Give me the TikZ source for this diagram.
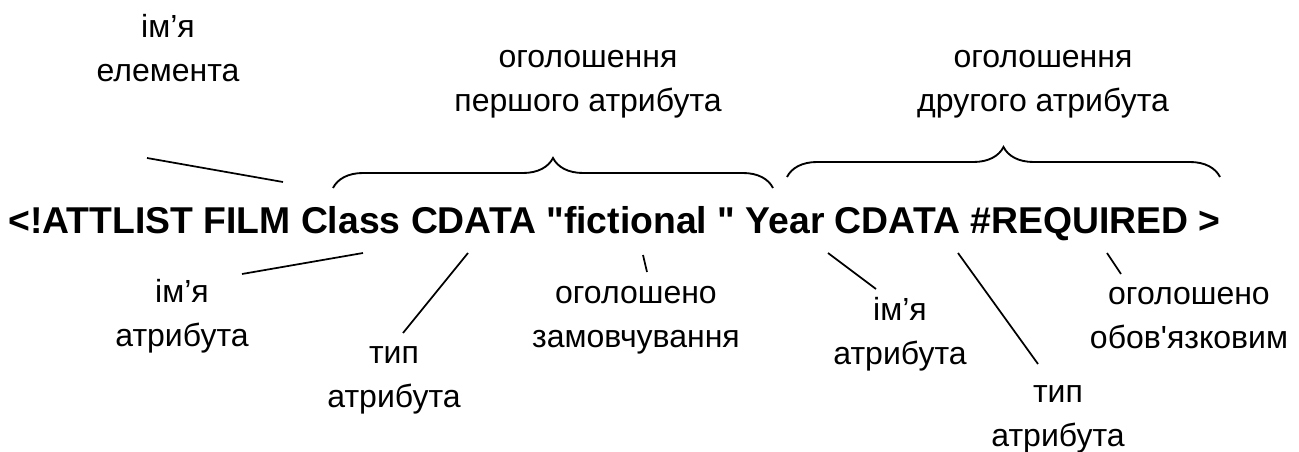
\documentclass[tikz,border=0pt]{standalone}
\usepackage{fontspec}
\newfontfamily\arial{Liberation Sans}
\usetikzlibrary{decorations.pathreplacing}
\begin{document}
\begin{tikzpicture}[x=0.75pt,y=-0.75pt,
  lbl/.style={font=\arial\fontsize{24}{33}\selectfont, align=center, anchor=base, inner sep=0},
  lead/.style={line width=1.3pt},
  brc/.style={decorate, decoration={brace, amplitude=22.5pt}, line width=1.4pt}]
\useasboundingbox (0,0) rectangle (1299,452);

% the declaration itself
\node[anchor=base west, inner sep=0, font=\arial\fontsize{28}{34}\selectfont\bfseries]
  (decl) at (8,234) {<!ATTLIST FILM Class CDATA "fictional " Year CDATA \#REQUIRED >};

% captions above (anchored at the baseline of their second line)
\node[lbl] (elname) at (168,82)  {ім’я\\елемента};
\node[lbl] (attr1)  at (588,112) {оголошення\\першого атрибута};
\node[lbl] (attr2)  at (1043,112) {оголошення\\другого атрибута};

% captions below
\node[lbl] (name1) at (182,346)  {ім’я\\атрибута};
\node[lbl] (type1) at (394,407)  {тип\\атрибута};
\node[lbl] (def1)  at (636,347)  {оголошено\\замовчування};
\node[lbl] (name2) at (900,364)  {ім’я\\атрибута};
\node[lbl] (type2) at (1058,446) {тип\\атрибута};
\node[lbl] (req2)  at (1189,349) {оголошено\\обов'язковим};

% braces over the two attribute declarations
\coordinate (b1s) at (333,188);
\coordinate (b1e) at (773,188);
\coordinate (b2s) at (787,177);
\coordinate (b2e) at (1220,177);
\draw[brc] (b1s) -- (b1e);
\draw[brc] (b2s) -- (b2e);

% leader lines
\coordinate (e0a) at (147,158);  \coordinate (e0b) at (283,182);
\coordinate (n1a) at (242,274);  \coordinate (n1b) at (363,253);
\coordinate (t1a) at (403,333);  \coordinate (t1b) at (468,253);
\coordinate (d1a) at (647,272);  \coordinate (d1b) at (643,255);
\coordinate (n2a) at (876,289);  \coordinate (n2b) at (828,253);
\coordinate (t2a) at (1038,364); \coordinate (t2b) at (958,253);
\coordinate (r2a) at (1121,274); \coordinate (r2b) at (1107,253);
\draw[lead] (e0a) -- (e0b);
\draw[lead] (n1a) -- (n1b);
\draw[lead] (t1a) -- (t1b);
\draw[lead] (d1a) -- (d1b);
\draw[lead] (n2a) -- (n2b);
\draw[lead] (t2a) -- (t2b);
\draw[lead] (r2a) -- (r2b);
\end{tikzpicture}
\end{document}
